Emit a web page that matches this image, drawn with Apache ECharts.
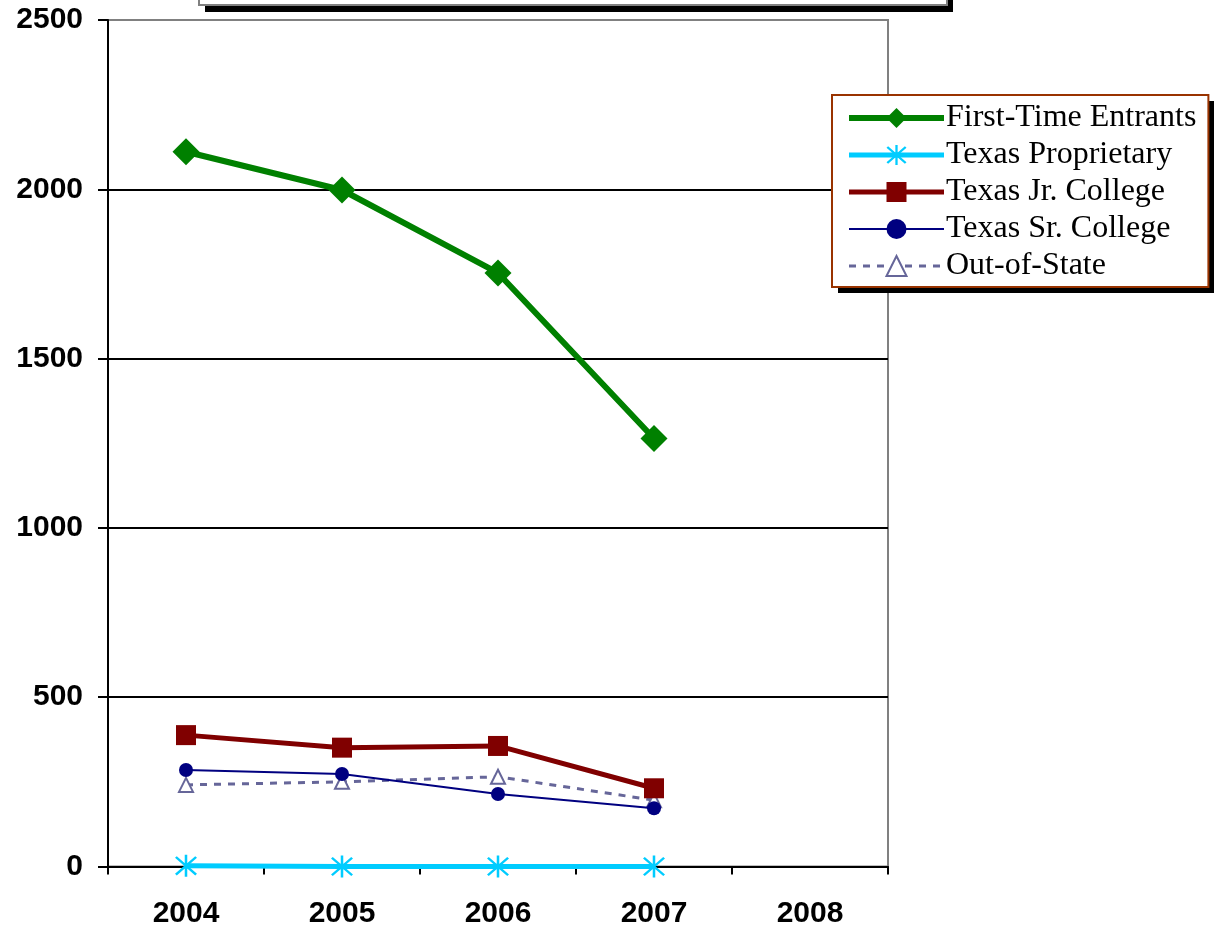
<!DOCTYPE html>
<html>
<head>
<meta charset="utf-8">
<script src="https://cdn.jsdelivr.net/npm/echarts@6/dist/echarts.min.js"></script>
<style>html,body{margin:0;padding:0;background:#fff;}#c{width:1214px;height:931px;}</style>
</head>
<body>
<div id="c"></div>
<script>
var years = ['2004', '2005', '2006', '2007', '2008'];
var yTicks = [0, 500, 1000, 1500, 2000, 2500];
var firstTime = [2111, 1998, 1753, 1264];
var proprietary = [2, 0, 0, 0];
var jrCollege = [388, 351, 356, 231];
var srCollege = [285, 273, 214, 172];
var outOfState = [241, 250, 265, 196];

var asterisk = 'path://M9,0L11,0L11,20L9,20Z M1.3,2.7L2.7,1.3L18.7,17.3L17.3,18.7Z M17.3,1.3L18.7,2.7L2.7,18.7L1.3,17.3Z';

var chart = echarts.init(document.getElementById('c'), null, {renderer: 'canvas'});
chart.setOption({
  animation: false,
  backgroundColor: '#fff',
  graphic: [
    {type: 'rect', z: 10, shape: {x: 205, y: -50, width: 748, height: 62}, style: {fill: '#000'}},
    {type: 'rect', z: 11, shape: {x: 199, y: -50, width: 748, height: 55}, style: {fill: '#fff', stroke: '#808080', lineWidth: 2}},
    {type: 'rect', z: 5, shape: {x: 838, y: 101, width: 376, height: 192}, style: {fill: '#000'}}
  ],
  grid: {left: 108, right: 326, top: 20, bottom: 64.5, show: true, borderColor: '#808080', borderWidth: 2, backgroundColor: '#fff'},
  legend: {
    z: 6,
    orient: 'vertical',
    left: 832, top: 95,
    padding: [7, 12, 5, 14],
    itemWidth: 95, itemHeight: 25, itemGap: 5,
    backgroundColor: '#fff',
    borderColor: '#993300', borderWidth: 2, borderRadius: 0,
    textStyle: {fontFamily: 'Liberation Serif', fontSize: 32, color: '#000', padding: [0, 0, 0, -3]},
    data: [
      {name: 'First-Time Entrants', lineStyle: {width: 6}},
      {name: 'Texas Proprietary', lineStyle: {width: 5}},
      {name: 'Texas Jr. College', lineStyle: {width: 5}},
      {name: 'Texas Sr. College', lineStyle: {width: 2}},
      {name: 'Out-of-State', lineStyle: {width: 3}}
    ]
  },
  xAxis: {
    type: 'category',
    data: years,
    boundaryGap: true,
    axisLine: {lineStyle: {color: '#000', width: 2}},
    axisTick: {show: true, interval: 0, length: 8, lineStyle: {color: '#000', width: 2}},
    axisLabel: {interval: 0, margin: 32, color: '#000', fontFamily: 'Liberation Sans', fontWeight: 'bold', fontSize: 30}
  },
  yAxis: {
    type: 'value',
    min: yTicks[0], max: yTicks[yTicks.length - 1], interval: 500,
    axisLine: {show: true, lineStyle: {color: '#000', width: 2}},
    axisTick: {show: true, length: 10, lineStyle: {color: '#000', width: 2}},
    axisLabel: {margin: 25, color: '#000', fontFamily: 'Liberation Sans', fontWeight: 'bold', fontSize: 30, formatter: function (v) { return String(v); }},
    splitLine: {show: true, lineStyle: {color: ['#000', '#000', '#000', '#000', '#000', '#808080'], width: 2}}
  },
  series: [
    {name: 'First-Time Entrants', type: 'line', data: firstTime, symbol: 'diamond', symbolSize: 27,
     lineStyle: {color: '#008000', width: 6}, itemStyle: {color: '#008000'}, z: 5},
    {name: 'Texas Proprietary', type: 'line', data: proprietary, symbol: asterisk, symbolSize: 22,
     lineStyle: {color: '#00CCFF', width: 5}, itemStyle: {color: '#00CCFF'}, z: 4},
    {name: 'Texas Jr. College', type: 'line', data: jrCollege, symbol: 'rect', symbolSize: 20,
     lineStyle: {color: '#800000', width: 5}, itemStyle: {color: '#800000'}, z: 4},
    {name: 'Texas Sr. College', type: 'line', data: srCollege, symbol: 'circle', symbolSize: 14,
     lineStyle: {color: '#000080', width: 2}, itemStyle: {color: '#000080'}, z: 4},
    {name: 'Out-of-State', type: 'line', data: outOfState, symbol: 'emptyTriangle', symbolSize: 14,
     lineStyle: {color: '#666699', width: 3, type: [7, 7]}, itemStyle: {color: '#666699', borderWidth: 2.5}, z: 3}
  ]
});
</script>
</body>
</html>
